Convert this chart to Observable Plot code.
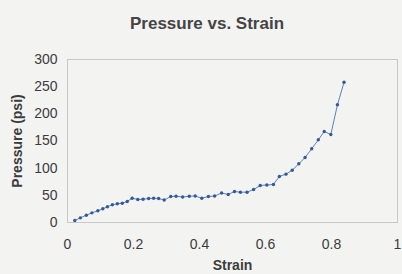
<!DOCTYPE html>
<html>
<head>
<meta charset="utf-8">
<script src="https://cdn.jsdelivr.net/npm/d3@7"></script>
<script src="https://cdn.jsdelivr.net/npm/@observablehq/plot@0.6"></script>
<style>
  html, body { margin: 0; padding: 0; background: #f3f3f1; }
  #wrap { position: relative; width: 402px; height: 274px; overflow: hidden; font-family: "Liberation Sans", Arial, sans-serif; }
  #title { position: absolute; left: 12px; top: 0; width: 390px; height: 45px; line-height: 47px; text-align: center; font-weight: bold; font-size: 17px; color: #444; }
  #chart { position: absolute; left: 0; top: 45px; }
</style>
</head>
<body>
<div id="wrap">
  <div id="title">Pressure vs. Strain</div>
  <div id="chart"></div>
</div>
<script>
const strain = [0.022, 0.039, 0.057, 0.074, 0.092, 0.107, 0.121, 0.136, 0.151, 0.166,
  0.181, 0.196, 0.213, 0.229, 0.246, 0.261, 0.276, 0.293, 0.313, 0.329,
  0.349, 0.369, 0.387, 0.407, 0.427, 0.446, 0.467, 0.487, 0.506, 0.524,
  0.544, 0.564, 0.584, 0.604, 0.624, 0.642, 0.662, 0.681, 0.701, 0.720,
  0.740, 0.760, 0.778, 0.798, 0.818, 0.838];
const pressure = [3.7, 8.6, 13.4, 17.8, 21.5, 25.2, 28.9, 32.6, 34.4, 35.5,
  38.6, 44.7, 42.3, 42.9, 44.2, 44.7, 44.2, 41.4, 47.8, 48.4,
  46.9, 48.4, 48.8, 44.7, 47.8, 48.8, 54.3, 51.5, 57.0, 55.8,
  55.8, 60.7, 68.1, 69.0, 70.0, 84.7, 89.0, 96.3, 108, 119.7,
  135.7, 152.2, 167.5, 162, 216.6, 258];
const xTicks = [0, 0.2, 0.4, 0.6, 0.8, 1];
const yTicks = [0, 50, 100, 150, 200, 250, 300];
const xLabel = "Strain";
const yLabel = "Pressure (psi)";

const data = strain.map((s, i) => ({strain: s, pressure: pressure[i]}));

const chart = Plot.plot({
  width: 402,
  height: 229,
  marginTop: 14,
  marginBottom: 52,
  marginLeft: 67,
  marginRight: 5,
  style: {fontFamily: "Liberation Sans, Arial, sans-serif", fontSize: "14px", color: "#3c3c3c", background: "transparent"},
  x: {domain: [0, 1]},
  y: {domain: [0, 300]},
  marks: [
    Plot.frame({stroke: "#c8c8c8", strokeWidth: 1}),
    Plot.axisX({ticks: xTicks, tickSize: 0, tickPadding: 17, label: null, tickFormat: d => String(d)}),
    Plot.axisY({ticks: yTicks, tickSize: 0, tickPadding: 10, label: null}),
    Plot.line(data, {x: "strain", y: "pressure", stroke: "#5a82c0", strokeWidth: 1}),
    Plot.dot(data, {x: "strain", y: "pressure", r: 1.7, fill: "#34589a", stroke: "none"}),
    Plot.text([xLabel], {frameAnchor: "bottom", lineAnchor: "middle", textAnchor: "middle", dy: 43, fontWeight: "bold", fontSize: 14, fill: "#3c3c3c"}),
    Plot.text([yLabel], {frameAnchor: "left", rotate: -90, textAnchor: "middle", lineAnchor: "middle", dx: -50, fontWeight: "bold", fontSize: 14, fill: "#3c3c3c"})
  ]
});
document.getElementById("chart").appendChild(chart);
</script>
</body>
</html>
